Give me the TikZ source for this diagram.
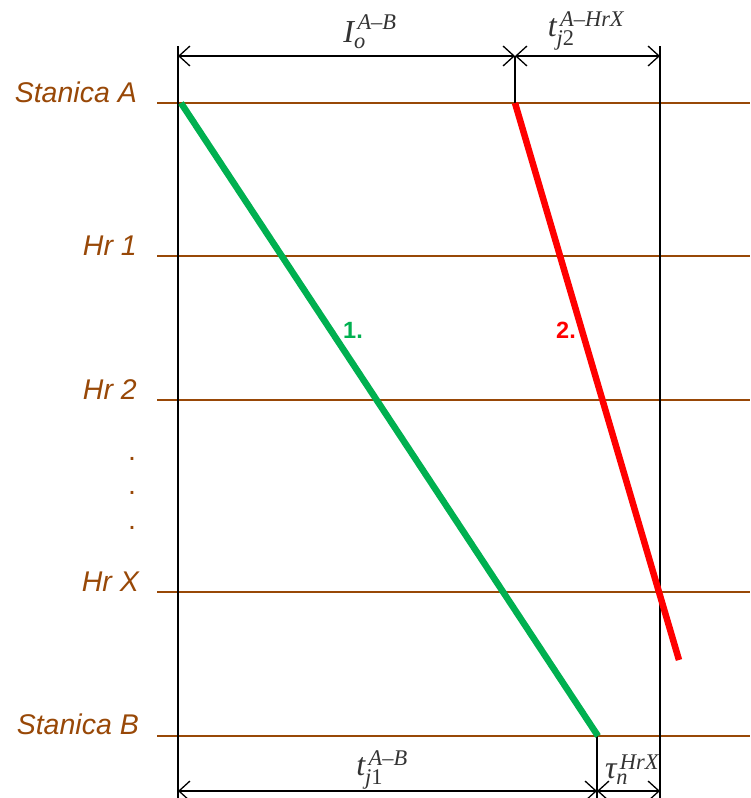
\documentclass[tikz,border=0pt]{standalone}
\usepackage{amsmath}
\usepackage{fontspec}
\setmainfont{Liberation Sans}
\newfontfamily\lserif{Liberation Serif}
\usetikzlibrary{arrows.meta}
\definecolor{brn}{HTML}{984807}
\definecolor{grn}{HTML}{00B050}
\definecolor{mgray}{HTML}{333333}
\newcommand{\ti}[1]{\text{\lserif\itshape #1}}
\newcommand{\tu}[1]{\text{\lserif #1}}
\tikzset{
  track/.style={draw=brn, line width=2.8pt},
  guide/.style={draw=black, line width=1.3pt},
  dim/.style={draw=black, line width=1.3pt, {Straight Barb[length=11pt,width=20pt,line width=1.3pt]}-{Straight Barb[length=11pt,width=20pt,line width=1.3pt]}},
  stlabel/.style={text=brn, font=\fontsize{28.5}{32}\selectfont\itshape, anchor=east, inner sep=0pt},
  mathlbl/.style={text=mgray, inner sep=0pt, font=\lserif\fontsize{32}{34}\selectfont},
  trainnum/.style={font=\fontsize{23.5}{26}\selectfont\bfseries, inner sep=0pt}
}
\begin{document}
\begin{tikzpicture}[x=1pt,y=-1pt]
\useasboundingbox (0,0) rectangle (750,798);
% coordinates
\coordinate (a0) at (157,103); \coordinate (a1) at (750,103);
\coordinate (h10) at (157,256); \coordinate (h11) at (750,256);
\coordinate (h20) at (157,400); \coordinate (h21) at (750,400);
\coordinate (hx0) at (157,592); \coordinate (hx1) at (750,592);
\coordinate (b0) at (157,736); \coordinate (b1) at (750,736);
% tracks
\draw[track] (a0) -- (a1);
\draw[track] (h10) -- (h11);
\draw[track] (h20) -- (h21);
\draw[track] (hx0) -- (hx1);
\draw[track] (b0) -- (b1);
% vertical guides
\coordinate (v1t) at (178,46); \coordinate (v1b) at (178,798);
\coordinate (v2t) at (515,56); \coordinate (v2b) at (515,103);
\coordinate (v3t) at (660,46); \coordinate (v3b) at (660,798);
\coordinate (v4t) at (597,736); \coordinate (v4b) at (597,798);
\draw[guide] (v1t) -- (v1b);
\draw[guide] (v2t) -- (v2b);
\draw[guide] (v3t) -- (v3b);
\draw[guide] (v4t) -- (v4b);
% dimension arrows
\coordinate (d1) at (178,56); \coordinate (d2) at (515,56); \coordinate (d3) at (660,56);
\coordinate (e1) at (178,791); \coordinate (e2) at (597,791); \coordinate (e3) at (660,791);
\draw[dim] (d1) -- (d2);
\draw[dim] (d2) -- (d3);
\draw[dim] (e1) -- (e2);
\draw[dim] (e2) -- (e3);
% trains
\coordinate (g0) at (181,103); \coordinate (g1) at (598,736);
\coordinate (r0) at (515,103); \coordinate (r1) at (679,660);
\draw[grn, line width=6.5pt] (g0) -- (g1);
\draw[red, line width=6.5pt] (r0) -- (r1);
% station labels
\node[stlabel] (sA) at (137,92) {Stanica A};
\node[stlabel] (s1) at (137,246) {Hr 1};
\node[stlabel] (s2) at (137,390) {Hr 2};
\node[stlabel] (sX) at (139,582) {Hr X};
\node[stlabel] (sB) at (139,724) {Stanica B};
\node[text=brn, font=\fontsize{28.5}{32}\selectfont] (dt1) at (132,459) {.};
\node[text=brn, font=\fontsize{28.5}{32}\selectfont] (dt2) at (132,493) {.};
\node[text=brn, font=\fontsize{28.5}{32}\selectfont] (dt3) at (132,528) {.};
% train numbers
\node[trainnum, text=grn] (n1) at (353,330) {1.};
\node[trainnum, text=red] (n2) at (566,330) {2.};
% math labels
\node[mathlbl] (lI) at (370,32) {$\ti{I}_{\ti{o}}^{\,\ti{A–B}}$};
\node[mathlbl] (lt2) at (586,31) {$\ti{t}_{\ti{j}\tu{2}}^{\,\ti{A–HrX}}$};
\node[mathlbl] (lt1) at (382,770) {$\ti{t}_{\ti{j}\tu{1}}^{\,\ti{A–B}}$};
\node[mathlbl] (ltau) at (632,770) {$\ti{τ}_{\ti{n}}^{\,\ti{HrX}}$};
\end{tikzpicture}
\end{document}
